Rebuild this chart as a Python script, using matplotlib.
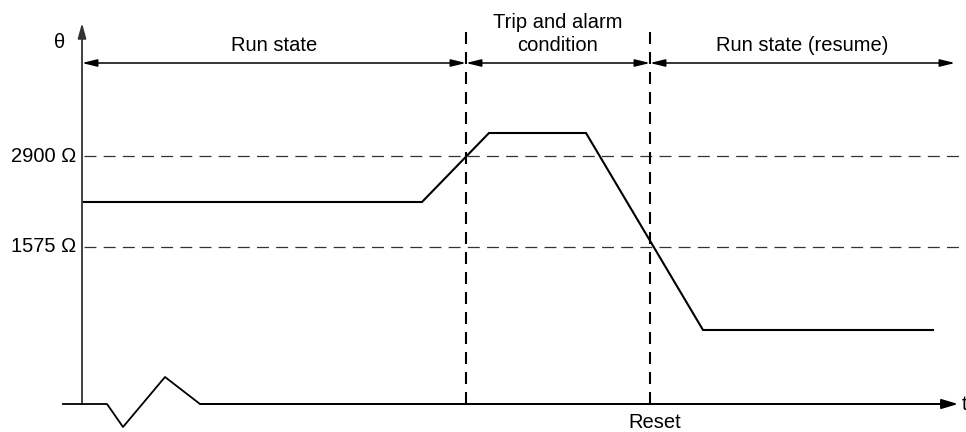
import matplotlib
matplotlib.use("Agg")
import matplotlib.pyplot as plt
from matplotlib.patches import FancyArrowPatch

plt.rcParams['font.family'] = ['Liberation Sans', 'DejaVu Sans']
plt.rcParams['lines.scale_dashes'] = False

# ---- data (schematic units: t along time axis, theta above baseline) ----
curve_t = [2, 340, 407, 504, 621, 851]
curve_theta = [202, 202, 271, 271, 74, 74]

baseline_t = [-19, 25, 41, 83, 118, 876]
baseline_theta = [0, 0, -23, 27, 0, 0]

threshold_labels = ["2900 Ω", "1575 Ω"]
threshold_levels = [248, 157]

boundary_t = [384, 568]
boundary_top = 372

state_labels = ["Run state", "Trip and alarm\ncondition", "Run state (resume)"]
state_edges = [0, 384, 568, 873]
state_arrow_level = 341

reset_label = "Reset"

fig = plt.figure(figsize=(9.66, 4.32), dpi=100)
ax = fig.add_axes([0, 0, 1, 1])
ax.set_xlim(-82, 884)
ax.set_ylim(-28, 404)
ax.axis('off')

fs = 14.5

# threshold dashed lines
for lab, lev in zip(threshold_labels, threshold_levels):
    ax.plot([2, 884], [lev, lev], color='#333333', lw=0.9, dashes=(8.6, 5.2))
    ax.text(-6, lev, lab, ha='right', va='center', fontsize=fs, color='black')

# vertical boundary dashed lines
for bt in boundary_t:
    ax.plot([bt, bt], [0, boundary_top], color='black', lw=1.5, dashes=(8.6, 5.8))

# curve
ax.plot(curve_t, curve_theta, color='black', lw=1.5, solid_joinstyle='miter')

# baseline with zigzag
ax.plot(baseline_t[:-1] + [baseline_t[-1] - 10], baseline_theta, color='black', lw=1.3)
ax.add_patch(FancyArrowPatch((baseline_t[-2], 0), (baseline_t[-1], 0),
                             arrowstyle='-|>,head_length=1.0,head_width=0.3',
                             mutation_scale=10, color='black', lw=1.3,
                             shrinkA=0, shrinkB=0))
ax.text(baseline_t[-1] + 4, 0, "t", ha='left', va='center', fontsize=fs)

# y axis
ax.add_patch(FancyArrowPatch((0, 0), (0, 381),
                             arrowstyle='-|>,head_length=0.9,head_width=0.25',
                             mutation_scale=10, color='#333333', lw=1.3,
                             shrinkA=0, shrinkB=0))
ax.text(-22, 362, "θ", ha='center', va='center', fontsize=fs)

# state double arrows and labels
for i, lab in enumerate(state_labels):
    a, b = state_edges[i], state_edges[i + 1]
    ax.add_patch(FancyArrowPatch((a, state_arrow_level), (b, state_arrow_level),
                                 arrowstyle='<|-|>,head_length=0.9,head_width=0.22',
                                 mutation_scale=10, color='black', lw=1.1,
                                 shrinkA=0, shrinkB=0))
    ax.text((a + b) / 2, state_arrow_level + 8, lab, ha='center', va='bottom',
            fontsize=fs, linespacing=1.25)

ax.text(boundary_t[1] + 5, -19, reset_label, ha='center', va='center', fontsize=fs)

fig.savefig("out.png", dpi=100)
